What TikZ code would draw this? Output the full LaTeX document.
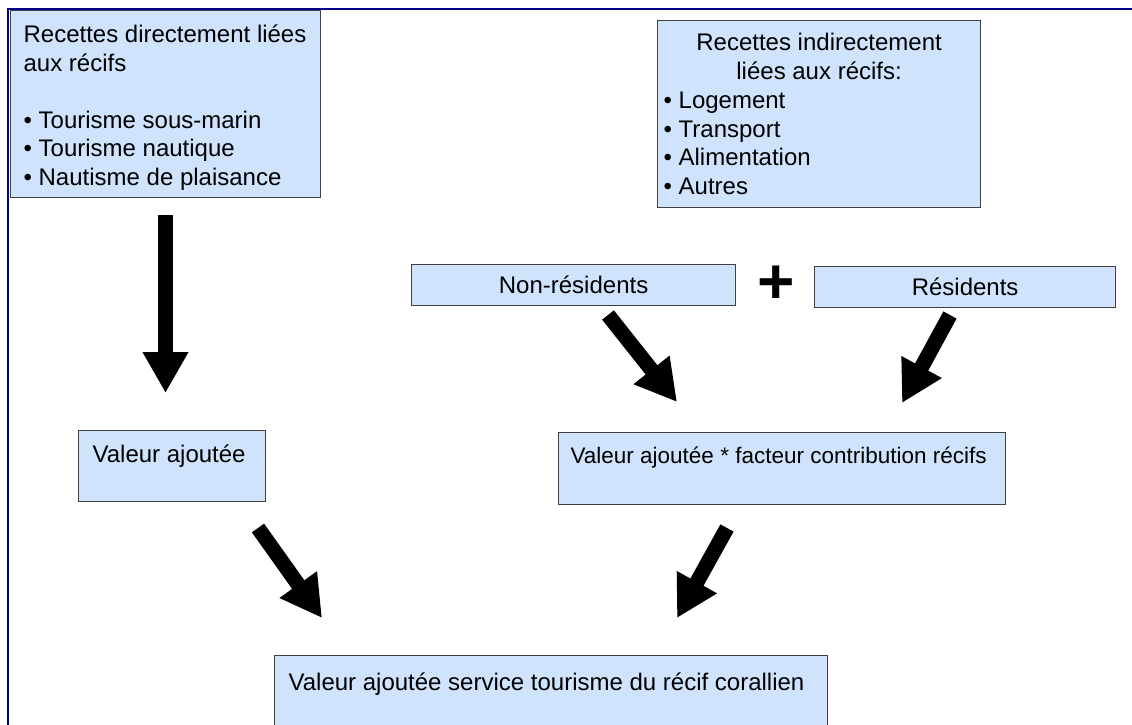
\documentclass[tikz,border=0pt]{standalone}
\usepackage{fontspec}
\setmainfont{Liberation Sans}
\usetikzlibrary{arrows.meta}
\definecolor{boxfill}{RGB}{207,228,252}
\definecolor{boxline}{RGB}{64,64,64}
\definecolor{framecol}{RGB}{0,0,140}
\tikzset{
  box/.style={draw=boxline, line width=1.2pt, fill=boxfill, inner sep=0pt, anchor=north west,
              font=\fontsize{24}{28.5}\selectfont},
  flatbox/.style={box, align=center},
  bigarrow/.style={line width=15pt, draw=black, -{Triangle[length=41pt,width=43pt]}},
}
\begin{document}
\begin{tikzpicture}[x=1pt,y=-1pt]
\clip (0,0) rectangle (1132,725);
\fill[white] (0,0) rectangle (1132,725);
\draw[framecol, line width=2pt] (1132,9) -- (8,9) -- (8,725);

\node[box] (b1) at (10,10) {\parbox[c][187pt][t]{310pt}{\raggedright\leftskip=13pt\relax
  \rule{0pt}{32pt}Recettes directement liées\\
  aux récifs\\[28.5pt]
  • Tourisme sous-marin\\
  • Tourisme nautique\\
  • Nautisme de plaisance}};

\node[box, font=\fontsize{24}{28.8}\selectfont] (b2) at (657,20) {\parbox[c][187pt][t]{323pt}{%
  {\centering\rule{0pt}{30pt}Recettes indirectement\\ liées aux récifs:\par}%
  \raggedright\leftskip=6pt\relax
  • Logement\\
  • Transport\\
  • Alimentation\\
  • Autres}};

\node[flatbox, minimum width=324pt, minimum height=41pt] (nr) at (411,264) {Non-résidents};
\node[flatbox, minimum width=301pt, minimum height=41pt] (rs) at (814,266) {Résidents};
\node[font=\fontsize{64}{64}\selectfont\bfseries, inner sep=0pt] (plus) at (776,285) {+};

\node[box] (va) at (78,430) {\parbox[c][71pt][t]{187pt}{\raggedright\leftskip=14pt\relax
  \rule{0pt}{32pt}Valeur ajoutée}};
\node[box, font=\fontsize{22.5}{27}\selectfont] (vf) at (558,432) {\parbox[c][72pt][t]{447pt}{\raggedright\leftskip=12pt\relax
  \rule{0pt}{31pt}\mbox{Valeur ajoutée * facteur contribution récifs}}};
\node[box] (vs) at (274,655) {\parbox[c][90pt][t]{553pt}{\raggedright\leftskip=14pt\relax
  \rule{0pt}{35pt}Valeur ajoutée service tourisme du récif corallien}};

\coordinate (a1s) at (165.5,215); \coordinate (a1e) at (165.5,393);
\coordinate (a2s) at (608,315);   \coordinate (a2e) at (677,402);
\coordinate (a3s) at (950,315);   \coordinate (a3e) at (902,403);
\coordinate (a4s) at (258,528);   \coordinate (a4e) at (322,618);
\coordinate (a5s) at (727,528);   \coordinate (a5e) at (677,618);

\draw[bigarrow] (a1s) -- (a1e);
\draw[bigarrow] (a2s) -- (a2e);
\draw[bigarrow] (a3s) -- (a3e);
\draw[bigarrow] (a4s) -- (a4e);
\draw[bigarrow] (a5s) -- (a5e);
\end{tikzpicture}
\end{document}
